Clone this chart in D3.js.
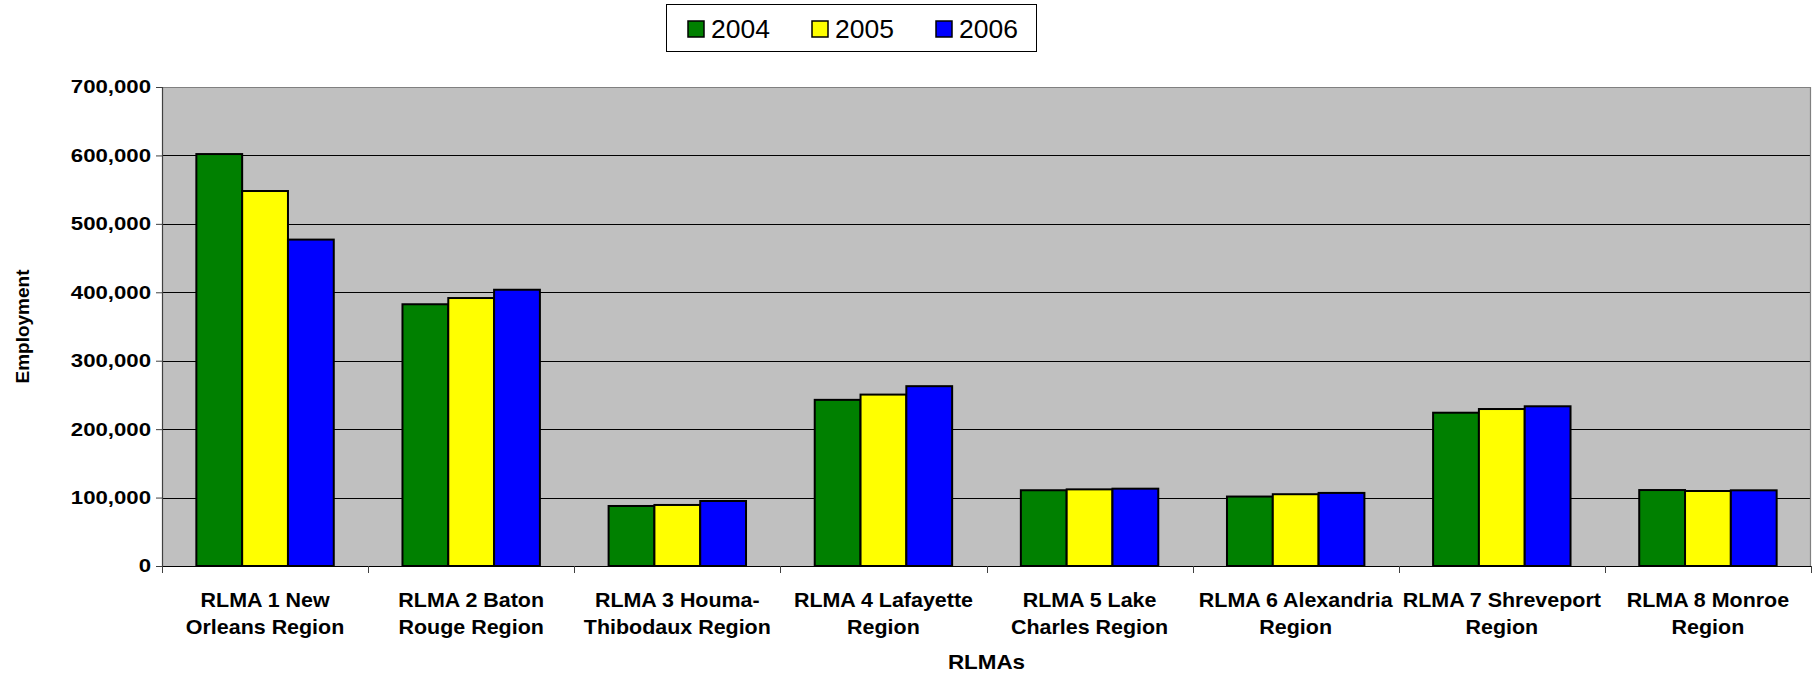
<!DOCTYPE html>
<html>
<head>
<meta charset="utf-8">
<script src="https://cdn.jsdelivr.net/npm/d3@7"></script>
<style>
  html, body { margin: 0; padding: 0; background: #ffffff; }
  svg { display: block; font-family: "Liberation Sans", Arial, sans-serif; }
</style>
</head>
<body>
<svg id="chart" width="1812" height="675"></svg>
<script>
// ---- data ----
const categories = ["RLMA 1", "RLMA 2", "RLMA 3", "RLMA 4", "RLMA 5", "RLMA 6", "RLMA 7", "RLMA 8"];
const categoryLabels = [
  ["RLMA 1 New", "Orleans Region"],
  ["RLMA 2 Baton", "Rouge Region"],
  ["RLMA 3 Houma-", "Thibodaux Region"],
  ["RLMA 4 Lafayette", "Region"],
  ["RLMA 5 Lake", "Charles Region"],
  ["RLMA 6 Alexandria", "Region"],
  ["RLMA 7 Shreveport", "Region"],
  ["RLMA 8 Monroe", "Region"]
];
const years = ["2004", "2005", "2006"];
const values2004 = [602000, 382500, 87700, 242800, 110700, 101500, 224000, 111000];
const values2005 = [548000, 391600, 89200, 250500, 112000, 104900, 229400, 109600];
const values2006 = [477000, 403700, 95000, 262800, 113000, 106800, 233400, 110600];
const yTicks = [0, 100000, 200000, 300000, 400000, 500000, 600000, 700000];
const colors = ["#008000", "#ffff00", "#0000ff"];
const yTitle = "Employment";
const xTitle = "RLMAs";

const series = [values2004, values2005, values2006];

// ---- layout ----
const svg = d3.select("#chart");
const plot = { left: 162, right: 1811, top: 87, bottom: 566 };
const stretch = 1.1; // horizontal text stretch seen in the reference

const x0 = d3.scaleBand().domain(categories).range([plot.left, plot.right]).padding(0);
const x1 = d3.scaleBand().domain(years).range([0, x0.bandwidth()]).paddingInner(0).paddingOuter(0.75);
const y = d3.scaleLinear().domain([0, 700000]).range([plot.bottom, plot.top]);

// plot background
svg.append("rect")
  .attr("x", plot.left).attr("y", plot.top)
  .attr("width", plot.right - plot.left).attr("height", plot.bottom - plot.top)
  .attr("fill", "#c0c0c0");

// gridlines
svg.append("g").selectAll("line")
  .data(yTicks.filter(t => t > 0 && t < 700000))
  .join("line")
  .attr("x1", plot.left).attr("x2", plot.right)
  .attr("y1", d => Math.round(y(d)) + 0.5).attr("y2", d => Math.round(y(d)) + 0.5)
  .attr("stroke", "#000").attr("stroke-width", 1);

// plot border (top, right)
svg.append("path")
  .attr("d", `M${plot.left},${plot.top + 0.5}H${plot.right - 0.5}V${plot.bottom}`)
  .attr("fill", "none").attr("stroke", "#808080").attr("stroke-width", 1.2);

// bars
const groups = svg.append("g").selectAll("g")
  .data(categories)
  .join("g")
  .attr("transform", d => `translate(${x0(d)},0)`);

groups.selectAll("rect")
  .data((d, i) => years.map((yr, j) => ({ yr, v: series[j][i], c: colors[j] })))
  .join("rect")
  .attr("x", d => x1(d.yr))
  .attr("y", d => y(d.v))
  .attr("width", x1.bandwidth())
  .attr("height", d => y(0) - y(d.v))
  .attr("fill", d => d.c)
  .attr("stroke", "#000")
  .attr("stroke-width", 2);

// y axis
const yAxis = d3.axisLeft(y).tickValues(yTicks).tickFormat(d3.format(",")).tickSizeOuter(0).tickSize(6).tickPadding(5);
const gy = svg.append("g").attr("transform", `translate(${plot.left},0)`).call(yAxis);
gy.select(".domain").attr("stroke", "#404040").attr("stroke-width", 1.2);
gy.selectAll(".tick line").attr("stroke", "#404040");
gy.selectAll(".tick text")
  .attr("font-size", 18.5).attr("font-weight", "bold").attr("fill", "#000")
  .attr("font-family", "Liberation Sans, Arial, sans-serif")
  .attr("x", -11 / 1.2)
  .attr("transform", "scale(1.2,1)");

// x axis
const xAxis = d3.axisBottom(x0).tickSize(0).tickFormat("");
const gx = svg.append("g").attr("transform", `translate(0,${plot.bottom})`).call(xAxis);
gx.select(".domain").attr("stroke", "#000").attr("stroke-width", 1.2);
gx.selectAll(".tick").remove();

// x tick marks at category boundaries
const boundaries = categories.map(c => x0(c)).concat([x0(categories[categories.length - 1]) + x0.bandwidth()]);
svg.append("g").selectAll("line")
  .data(boundaries)
  .join("line")
  .attr("x1", d => Math.round(d) + 0.5).attr("x2", d => Math.round(d) + 0.5)
  .attr("y1", plot.bottom).attr("y2", plot.bottom + 7)
  .attr("stroke", "#404040").attr("stroke-width", 1);

// x category labels
const labelG = svg.append("g")
  .attr("font-size", 19.5).attr("font-weight", "bold").attr("text-anchor", "middle").attr("fill", "#000");
categories.forEach((c, i) => {
  const t = labelG.append("text")
    .attr("transform", `translate(${x0(c) + x0.bandwidth() / 2},606.5) scale(${stretch},1)`);
  categoryLabels[i].forEach((line, k) => {
    t.append("tspan")
      .attr("x", 0)
      .attr("dy", k === 0 ? 0 : 27.7)
      .text(line);
  });
});

// axis titles
svg.append("text")
  .attr("transform", `translate(${(plot.left + plot.right) / 2},669) scale(1.15,1)`)
  .attr("text-anchor", "middle").attr("font-size", 19.5).attr("font-weight", "bold")
  .text(xTitle);

svg.append("text")
  .attr("transform", `translate(29,${(plot.top + plot.bottom) / 2}) rotate(-90)`)
  .attr("text-anchor", "middle").attr("font-size", 19).attr("font-weight", "bold")
  .text(yTitle);

// legend
const legend = svg.append("g");
legend.append("rect")
  .attr("x", 666.5).attr("y", 4.5).attr("width", 370).attr("height", 47)
  .attr("fill", "#fff").attr("stroke", "#000").attr("stroke-width", 1);
const legendX = [688, 812, 936];
years.forEach((yr, j) => {
  legend.append("rect")
    .attr("x", legendX[j]).attr("y", 21).attr("width", 16).attr("height", 16)
    .attr("fill", colors[j]).attr("stroke", "#000").attr("stroke-width", 1.5);
  legend.append("text")
    .attr("transform", `translate(${legendX[j] + 23},38) scale(1.06,1)`)
    .attr("font-size", 25).attr("fill", "#000")
    .text(yr);
});
</script>
</body>
</html>
